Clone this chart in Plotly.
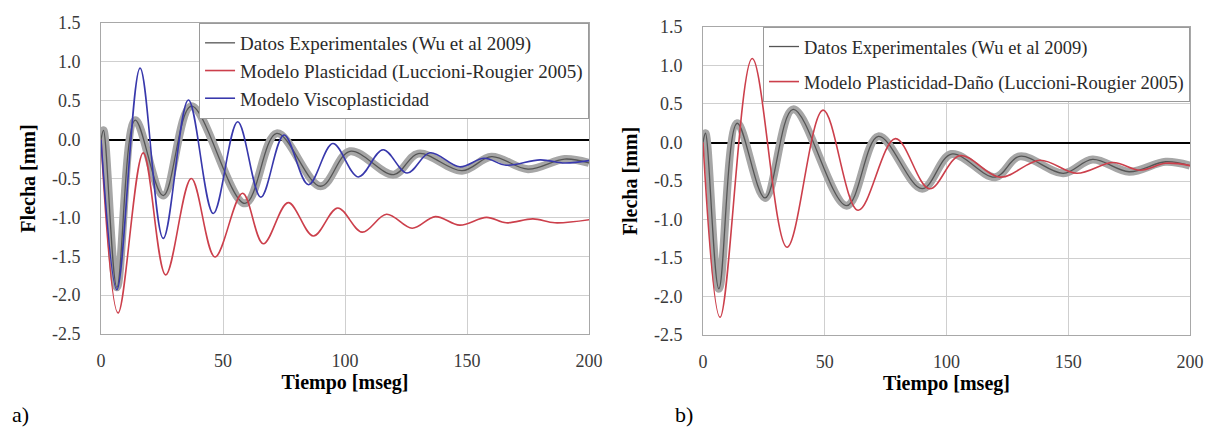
import plotly.graph_objects as go

# Datos experimentales (Wu et al 2009) - mismos en ambos paneles
t_exp = [0, 1, 6.5, 14, 25.5, 37, 59, 72, 90, 102, 120, 130, 148, 160, 175, 190, 200]
y_exp = [0, 0.12, -1.9, 0.25, -0.72, 0.43, -0.82, 0.08, -0.6, -0.15, -0.45, -0.18,
         -0.4, -0.22, -0.38, -0.25, -0.3]

# a) Modelo Plasticidad (Luccioni-Rougier 2005)
t_plas = [0, 7, 17.3, 26.5, 37, 46.7, 58, 66.5, 76.7, 87, 97, 107, 117, 127.5, 137,
          147, 158, 166, 177, 186, 200]
y_plas = [0, -2.23, -0.17, -1.74, -0.5, -1.51, -0.69, -1.34, -0.81, -1.24, -0.88,
          -1.19, -0.96, -1.14, -0.99, -1.1, -1.0, -1.07, -1.02, -1.07, -1.03]

# a) Modelo Viscoplasticidad
t_visc = [0, 6.5, 16, 25.5, 35.8, 46, 56, 65.5, 75, 85, 95, 105.4, 115.6, 125.4,
          134.8, 147, 157, 166, 180, 190, 200]
y_visc = [0, -1.93, 0.92, -1.27, 0.51, -0.95, 0.23, -0.74, 0.06, -0.58, -0.05, -0.48,
          -0.13, -0.43, -0.17, -0.35, -0.24, -0.33, -0.26, -0.3, -0.27]

# b) Modelo Plasticidad-Daño (Luccioni-Rougier 2005)
t_dano = [0, 7, 20.2, 34.5, 49.3, 63.7, 79, 93, 105.5, 122, 138.4, 153.5, 168.4,
          179.5, 190, 200]
y_dano = [0, -2.27, 1.09, -1.36, 0.42, -0.88, 0.05, -0.6, -0.17, -0.45, -0.23, -0.4,
          -0.26, -0.36, -0.27, -0.3]

x_ticks = [0, 50, 100, 150, 200]
y_ticks = [-2.5, -2.0, -1.5, -1.0, -0.5, 0.0, 0.5, 1.0, 1.5]
y_tick_labels = ["-2.5", "-2.0", "-1.5", "-1.0", "-0.5", "0.0", "0.5", "1.0", "1.5"]

SERIF = "Liberation Serif"
GREY_BAND = "#a6a6a6"
DARK = "#555555"
RED = "#cc3f4b"
BLUE = "#3838ac"

fig = go.Figure()

for xa, ya, leg in [("x", "y", "legend"), ("x2", "y2", "legend2")]:
    # banda gris del ruido experimental
    fig.add_trace(go.Scatter(x=t_exp, y=y_exp, mode="lines", xaxis=xa, yaxis=ya,
                             line=dict(color=GREY_BAND, width=8, shape="spline"),
                             showlegend=False, hoverinfo="skip"))
    fig.add_trace(go.Scatter(x=t_exp, y=y_exp, mode="lines", xaxis=xa, yaxis=ya,
                             name="Datos Experimentales (Wu et al 2009)",
                             legend=leg, legendgroup="exp" + xa,
                             line=dict(color=DARK, width=1.3, shape="spline")))

fig.add_trace(go.Scatter(x=t_plas, y=y_plas, mode="lines", xaxis="x", yaxis="y",
                         name="Modelo Plasticidad (Luccioni-Rougier 2005)",
                         legend="legend", legendgroup="plas",
                         line=dict(color=RED, width=1.6, shape="spline")))
fig.add_trace(go.Scatter(x=t_visc, y=y_visc, mode="lines", xaxis="x", yaxis="y",
                         name="Modelo Viscoplasticidad",
                         legend="legend", legendgroup="visc",
                         line=dict(color=BLUE, width=1.6, shape="spline")))
fig.add_trace(go.Scatter(x=t_dano, y=y_dano, mode="lines", xaxis="x2", yaxis="y2",
                         name="Modelo Plasticidad-Daño (Luccioni-Rougier 2005)",
                         legend="legend2", legendgroup="dano",
                         line=dict(color=RED, width=1.6, shape="spline")))

xax = dict(range=[0, 200], tickvals=x_ticks, showgrid=True, gridcolor="#cfcfcf",
           zeroline=False, showline=True, mirror=True, linecolor="#a8a8a8",
           tickfont=dict(family=SERIF, size=18, color="#3a3a3a"),
           ticklabelstandoff=10, automargin=False,
           title=dict(text="Tiempo [mseg]", standoff=2,
                      font=dict(family=SERIF, size=20, color="black", weight="bold")))
yax = dict(range=[-2.5, 1.5], tickvals=y_ticks, ticktext=y_tick_labels, showgrid=True,
           gridcolor="#cfcfcf", zeroline=True, zerolinecolor="black", zerolinewidth=2,
           showline=True, mirror=True, linecolor="#a8a8a8",
           tickfont=dict(family=SERIF, size=18, color="#3a3a3a"),
           ticklabelstandoff=16, automargin=False,
           title=dict(text="Flecha [mm]", standoff=10,
                      font=dict(family=SERIF, size=20, color="black", weight="bold")))

# la página tiene un margen de 8 px: la figura ocupa 1205x422
fig.update_layout(
    width=1205, height=422,
    margin=dict(l=0, r=0, t=0, b=0),
    plot_bgcolor="white", paper_bgcolor="white",
    xaxis=dict(xax, domain=[0.0772, 0.4822], anchor="y"),
    yaxis=dict(yax, domain=[0.2275, 0.9645], anchor="x"),
    xaxis2=dict(xax, domain=[0.5768, 0.9809], anchor="y2"),
    yaxis2=dict(yax, domain=[0.2251, 0.9550], anchor="x2"),
    legend=dict(x=0.4822, y=0.9645, xanchor="right", yanchor="top",
                bgcolor="white", bordercolor="#9a9a9a", borderwidth=1,
                font=dict(family=SERIF, size=19, color="#2a2a2a"),
                tracegroupgap=0, itemwidth=30),
    legend2=dict(x=0.9809, y=0.9550, xanchor="right", yanchor="top",
                 bgcolor="white", bordercolor="#9a9a9a", borderwidth=1,
                 font=dict(family=SERIF, size=18.5, color="#2a2a2a"),
                 tracegroupgap=8, itemwidth=30),
    annotations=[
        dict(text="a)", x=0.002, y=0.036, xref="paper", yref="paper", xanchor="left",
             yanchor="middle", showarrow=False,
             font=dict(family=SERIF, size=22, color="black")),
        dict(text="b)", x=0.552, y=0.036, xref="paper", yref="paper", xanchor="left",
             yanchor="middle", showarrow=False,
             font=dict(family=SERIF, size=22, color="black")),
    ],
)

fig.write_html("out.html")
